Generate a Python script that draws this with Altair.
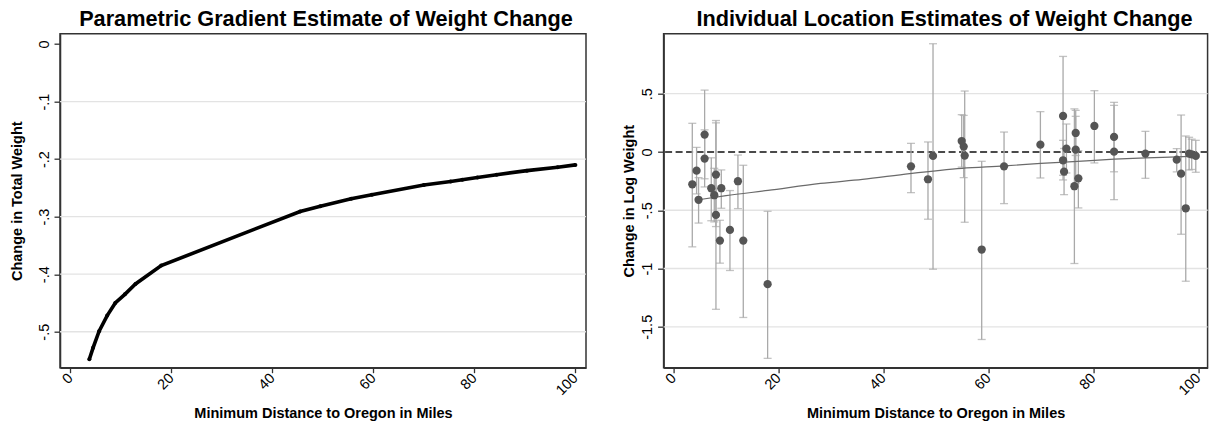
import altair as alt
import pandas as pd

FONT = "Liberation Sans"

# ---------------- Left panel: parametric gradient estimate ----------------
grad_x = [3.76, 4.5, 5.7, 7.3, 8.9, 10.8, 12.9, 18.0, 45.5, 49.5, 55.6, 59.7,
          70.0, 75.3, 77.6, 80.6, 84.4, 90.4, 96.5, 100.0]
grad_y = [-0.548, -0.528, -0.499, -0.472, -0.450, -0.435, -0.417, -0.385,
          -0.291, -0.282, -0.269, -0.262, -0.245, -0.239, -0.236, -0.232,
          -0.227, -0.220, -0.214, -0.210]

left_y_ticks = [0, -0.1, -0.2, -0.3, -0.4, -0.5]
left_y_labels = ["0", "-.1", "-.2", "-.3", "-.4", "-.5"]
left_grid = [-0.1, -0.2, -0.3, -0.4, -0.5]

# ---------------- Right panel: individual location estimates ----------------
loc_x = [3.57, 4.39, 4.77, 5.92, 5.92, 7.19, 7.76, 8.08, 8.08, 8.84, 9.10,
         10.75, 12.27, 13.29, 17.93,
         45.26, 48.50, 49.46, 54.93, 55.31, 55.50, 58.74, 63.00,
         69.93, 74.25, 74.89, 74.25, 74.44, 76.66, 76.66, 76.41, 77.17,
         80.22, 83.97, 83.97, 89.95, 95.92, 96.75, 97.64, 98.28, 98.78, 99.55]
loc_y = [-0.277, -0.160, -0.410, 0.149, -0.057, -0.311, -0.371, -0.194, -0.540,
         -0.760, -0.311, -0.669, -0.251, -0.760, -1.134,
         -0.123, -0.234, -0.034, 0.094, 0.046, -0.031, -0.837, -0.123,
         0.063, 0.309, 0.029, -0.071, -0.169, 0.163, 0.020, -0.294, -0.226,
         0.223, 0.129, 0.003, -0.014, -0.066, -0.186, -0.483, -0.014, -0.020, -0.034]
ci_lo = [-0.814, -0.360, -0.610, -0.230, -0.300, -0.590, -0.600, -0.640, -1.350,
         -0.954, -0.483, -1.017, -0.486, -1.420, -1.771,
         -0.349, -0.577, -1.006, -0.130, -0.220, -0.603, -1.609, -0.443,
         -0.223, -0.200, -0.180, -0.240, -0.366, -0.030, -0.270, -0.957, -0.480,
         -0.094, -0.170, -0.409, -0.226, -0.170, -0.706, -1.109, -0.154, -0.150, -0.174]
ci_hi = [0.246, 0.040, -0.220, 0.531, 0.190, -0.050, -0.140, 0.250, 0.270,
         -0.586, -0.154, -0.331, -0.026, -0.114, -0.509,
         0.074, 0.086, 0.929, 0.320, 0.314, 0.523, -0.080, 0.171,
         0.346, 0.820, 0.240, 0.100, 0.030, 0.357, 0.306, 0.370, 0.011,
         0.526, 0.426, 0.400, 0.177, 0.029, 0.317, 0.137, 0.126, 0.110, 0.100]

fit_x = [4.77, 10.0, 18.0, 28.0, 36.0, 45.0, 55.0, 63.0, 70.0, 77.0, 84.0, 90.0, 96.0, 99.55]
fit_y = [-0.410, -0.375, -0.330, -0.270, -0.235, -0.185, -0.140, -0.120, -0.098,
         -0.080, -0.062, -0.050, -0.042, -0.036]

right_y_ticks = [0.5, 0, -0.5, -1, -1.5]
right_y_labels = [".5", "0", "-.5", "-1", "-1.5"]
right_grid = [0.5, -0.5, -1, -1.5]

x_ticks = [0, 20, 40, 60, 80, 100]

X_TITLE = "Minimum Distance to Oregon in Miles"


def lab_expr(vals, labs):
    expr = "''"
    for v, l in zip(reversed(vals), reversed(labs)):
        expr = f"abs(datum.value - ({v})) < 1e-6 ? '{l}' : ({expr})"
    return expr


def x_axis():
    return alt.Axis(values=x_ticks, title=X_TITLE, labelAngle=-45,
                    labelAlign="right", labelBaseline="middle", labelPadding=3,
                    tickSize=5, grid=False, titlePadding=9)


def y_axis(title, vals, labs, tpad):
    return alt.Axis(values=vals, labelExpr=lab_expr(vals, labs), title=title,
                    labelAngle=-90, labelAlign="center", labelBaseline="bottom",
                    labelPadding=3, tickSize=6, grid=False, titlePadding=tpad)


# ---- left chart ----
left_df = pd.DataFrame({"x": grad_x, "y": grad_y})
lgrid_df = pd.DataFrame({"y": left_grid})
xs_l = alt.Scale(domain=[-2.04, 102.1], nice=False, zero=False)
ys_l = alt.Scale(domain=[-0.5625, 0.018], nice=False, zero=False)

lgrid = alt.Chart(lgrid_df).mark_rule(color="#e3e3e3", strokeWidth=1.3).encode(
    y=alt.Y("y:Q", scale=ys_l, axis=y_axis("Change in Total Weight", left_y_ticks, left_y_labels, 12))
)
lline = alt.Chart(left_df).mark_line(color="black", strokeWidth=3.6).encode(
    x=alt.X("x:Q", scale=xs_l, axis=x_axis()),
    y=alt.Y("y:Q", scale=ys_l),
)
lpts = alt.Chart(left_df).mark_point(filled=True, color="black", size=16, opacity=1).encode(
    x=alt.X("x:Q", scale=xs_l),
    y=alt.Y("y:Q", scale=ys_l),
)
left = alt.layer(lgrid, lline, lpts).properties(
    width=526, height=334,
    title=alt.TitleParams("Parametric Gradient Estimate of Weight Change", font=FONT,
                          fontSize=21.7, fontWeight="bold", color="black",
                          anchor="middle", baseline="alphabetic", offset=-14.3, dx=3),
)

# ---- right chart ----
right_df = pd.DataFrame({"x": loc_x, "y": loc_y, "lo": ci_lo, "hi": ci_hi})
fit_df = pd.DataFrame({"x": fit_x, "y": fit_y})
rgrid_df = pd.DataFrame({"y": right_grid})
zero_df = pd.DataFrame({"y": [0.0]})
xs_r = alt.Scale(domain=[-1.9, 101.8], nice=False, zero=False)
ys_r = alt.Scale(domain=[-1.851, 1.015], nice=False, zero=False)

rgrid = alt.Chart(rgrid_df).mark_rule(color="#e3e3e3", strokeWidth=1.3).encode(
    y=alt.Y("y:Q", scale=ys_r, axis=y_axis("Change in Log Weight", right_y_ticks, right_y_labels, 3))
)
zero_line = alt.Chart(zero_df).mark_rule(color="#4a4a4a", strokeWidth=1.8, strokeDash=[7, 3.5]).encode(
    y=alt.Y("y:Q", scale=ys_r)
)
bars = alt.Chart(right_df).mark_rule(color="#a9a9a9", strokeWidth=1.3).encode(
    x=alt.X("x:Q", scale=xs_r, axis=x_axis()),
    y=alt.Y("lo:Q", scale=ys_r),
    y2="hi:Q",
)
cap_lo = alt.Chart(right_df).mark_tick(color="#a9a9a9", orient="horizontal", size=8, thickness=1.3).encode(
    x=alt.X("x:Q", scale=xs_r), y=alt.Y("lo:Q", scale=ys_r)
)
cap_hi = alt.Chart(right_df).mark_tick(color="#a9a9a9", orient="horizontal", size=8, thickness=1.3).encode(
    x=alt.X("x:Q", scale=xs_r), y=alt.Y("hi:Q", scale=ys_r)
)
fit = alt.Chart(fit_df).mark_line(color="#6a6a6a", strokeWidth=1.2, interpolate="monotone").encode(
    x=alt.X("x:Q", scale=xs_r), y=alt.Y("y:Q", scale=ys_r)
)
pts = alt.Chart(right_df).mark_circle(color="#555555", size=68, opacity=1).encode(
    x=alt.X("x:Q", scale=xs_r), y=alt.Y("y:Q", scale=ys_r)
)
right = alt.layer(rgrid, zero_line, bars, cap_lo, cap_hi, fit, pts).properties(
    width=544, height=334,
    title=alt.TitleParams("Individual Location Estimates of Weight Change", font=FONT,
                          fontSize=21.7, fontWeight="bold", color="black",
                          anchor="middle", baseline="alphabetic", offset=-14.3, dx=9),
)

chart = alt.hconcat(left, right, spacing=77.6, bounds="flush").properties(
    padding={"left": 8, "top": 7.7, "right": 0, "bottom": 0},
    background="white",
).configure_view(
    stroke="#333333", strokeWidth=1.5
).configure_axis(
    domainColor="#333333", domainWidth=1.5, tickColor="#333333", tickWidth=1.3,
    labelFont=FONT, labelFontSize=14.5, labelColor="black",
    titleFont=FONT, titleFontSize=14.5, titleFontWeight="bold", titleColor="black",
)

chart.save("out.html", embed_options={"renderer": "svg", "actions": False})
